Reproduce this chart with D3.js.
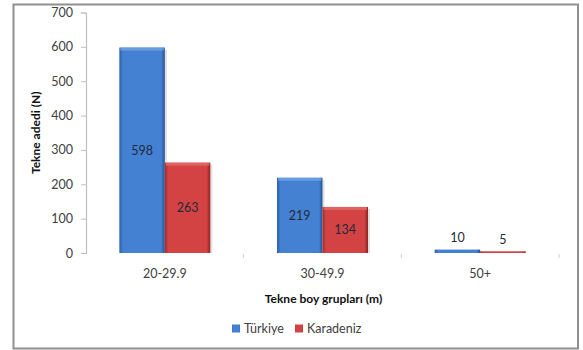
<!DOCTYPE html>
<html><head><meta charset="utf-8">
<script src="https://cdn.jsdelivr.net/npm/d3@7"></script>
<style>
html,body{margin:0;padding:0;background:#fff;}
svg{display:block;font-family:Lato,"Open Sans",sans-serif;}
</style></head>
<body>
<script>
const categories = ["20-29.9", "30-49.9", "50+"];
const seriesNames = ["Türkiye", "Karadeniz"];
const turkiye = [598, 219, 10];
const karadeniz = [263, 134, 5];
const yTicks = [0, 100, 200, 300, 400, 500, 600, 700];

const W = 583, H = 350;
const svg = d3.select("body").append("svg").attr("width", W).attr("height", H);
const defs = svg.append("defs");

const palettes = {
  "Türkiye": {edge: "#2c5fa8", mid: "#4581d3", light: "#6fa2e2", dark: "#24508f"},
  "Karadeniz": {edge: "#a32c2c", mid: "#d44343", light: "#e56b69", dark: "#8a2120"}
};
seriesNames.forEach((s, i) => {
  const p = palettes[s];
  const g = defs.append("linearGradient").attr("id", "g" + i).attr("x1", 0).attr("x2", 1).attr("y1", 0).attr("y2", 0);
  g.append("stop").attr("offset", "0%").attr("stop-color", p.edge);
  g.append("stop").attr("offset", "8%").attr("stop-color", p.mid);
  g.append("stop").attr("offset", "92%").attr("stop-color", p.mid);
  g.append("stop").attr("offset", "100%").attr("stop-color", p.dark);
});

// outer border
svg.append("rect").attr("x", 13.5).attr("y", 4.5).attr("width", 564.5).attr("height", 344)
  .attr("fill", "#fff").attr("stroke", "#8f8f8f").attr("stroke-width", 2);

const plot = {left: 86, right: 559, top: 12.5, bottom: 253};
const y = d3.scaleLinear().domain([0, 700]).range([plot.bottom, plot.top]);
const x0 = d3.scaleBand().domain(categories).range([plot.left, plot.right]).padding(0);
const x1 = d3.scaleBand().domain(seriesNames).range([0, x0.bandwidth()]).paddingInner(0).paddingOuter(0.733);

// y axis
const yAxis = svg.append("g").attr("transform", `translate(${plot.left},0)`)
  .call(d3.axisLeft(y).tickValues(yTicks).tickSize(5).tickPadding(8).tickFormat(d3.format("d")));
yAxis.select(".domain").attr("stroke", "#bfbfbf").attr("stroke-width", 1.2);
yAxis.selectAll(".tick line").attr("stroke", "#bfbfbf");
yAxis.selectAll(".tick text").attr("fill", "#404040").style("font-size", "12.5px").style("font-family", "Lato, sans-serif");

// x axis (ticks only at band boundaries)
const xAxis = svg.append("g").attr("transform", `translate(0,${plot.bottom})`)
  .call(d3.axisBottom(x0).tickSize(0).tickPadding(16));
xAxis.select(".domain").remove();
xAxis.selectAll(".tick text").attr("fill", "#404040").style("font-size", "12.5px").style("font-family", "Lato, sans-serif");
const bounds = categories.map(c => x0(c) + x0.bandwidth());
svg.append("g").selectAll("line").data(bounds).join("line")
  .attr("x1", d => d).attr("x2", d => d).attr("y1", plot.bottom + 1).attr("y2", plot.bottom + 5)
  .attr("stroke", "#d0d0d0");

// bars
const data = categories.map((c, i) => ({cat: c, vals: [
  {s: seriesNames[0], v: turkiye[i], idx: 0},
  {s: seriesNames[1], v: karadeniz[i], idx: 1}
]}));

const groups = svg.append("g").selectAll("g").data(data).join("g")
  .attr("transform", d => `translate(${x0(d.cat)},0)`);

// soft shadow on the right
groups.selectAll("rect.shadow").data(d => d.vals.filter(v => y(0) - y(v.v) > 8)).join("rect").attr("class", "shadow")
  .attr("x", d => x1(d.s) + x1.bandwidth()).attr("width", 2)
  .attr("y", d => y(d.v) + 2).attr("height", d => y(0) - y(d.v) - 2)
  .attr("fill", "#000").attr("opacity", 0.12);

groups.selectAll("rect.bar").data(d => d.vals).join("rect").attr("class", "bar")
  .attr("x", d => x1(d.s)).attr("width", x1.bandwidth())
  .attr("y", d => y(d.v)).attr("height", d => y(0) - y(d.v))
  .attr("fill", d => `url(#g${d.idx})`);

// top bevel highlight
groups.selectAll("rect.top").data(d => d.vals.filter(v => y(0) - y(v.v) > 8)).join("rect").attr("class", "top")
  .attr("x", d => x1(d.s) + 1).attr("width", x1.bandwidth() - 2)
  .attr("y", d => y(d.v)).attr("height", 3)
  .attr("fill", d => palettes[d.s].light).attr("opacity", 0.8);

// labels
groups.selectAll("text.lbl").data(d => d.vals).join("text").attr("class", "lbl")
  .attr("x", d => x1(d.s) + x1.bandwidth() / 2)
  .attr("y", d => {
    const h = y(0) - y(d.v);
    return h < 15 ? y(d.v) - 12 : (y(d.v) + y(0)) / 2;
  })
  .attr("text-anchor", "middle").attr("dominant-baseline", "central")
  .attr("fill", "#1f2a3a").style("font-size", "12.5px")
  .text(d => d.v);

// axis titles
svg.append("text").attr("transform", `translate(35,${(plot.top + plot.bottom) / 2}) rotate(-90)`)
  .attr("text-anchor", "middle").attr("dominant-baseline", "central")
  .style("font-size", "12px").style("font-weight", "bold").attr("fill", "#111")
  .text("Tekne adedi (N)");
svg.append("text").attr("x", (plot.left + plot.right) / 2 + 1).attr("y", 298)
  .attr("text-anchor", "middle").attr("dominant-baseline", "central")
  .style("font-size", "12px").style("font-weight", "bold").attr("fill", "#111")
  .text("Tekne boy grupları (m)");

// legend
const legend = svg.append("g").attr("transform", "translate(232,328)");
const legX = [0, 63];
seriesNames.forEach((s, i) => {
  const g = legend.append("g").attr("transform", `translate(${legX[i]},0)`);
  g.append("rect").attr("x", 0).attr("y", -3.5).attr("width", 8).attr("height", 8)
    .attr("fill", `url(#g${i})`);
  g.append("text").attr("x", 12).attr("y", 0.5).attr("dominant-baseline", "central")
    .style("font-size", "12.5px").attr("fill", "#404040").text(s);
});
</script>
</body></html>
